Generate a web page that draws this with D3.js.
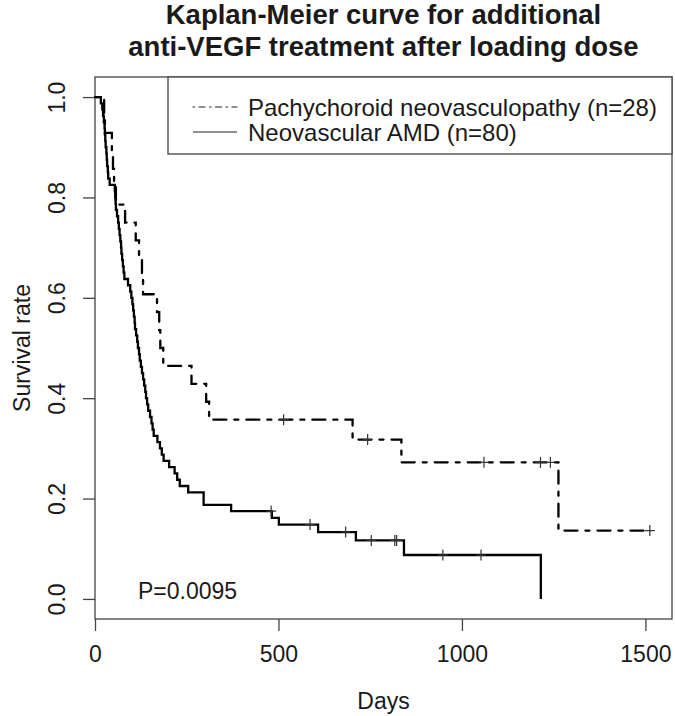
<!DOCTYPE html>
<html>
<head>
<meta charset="utf-8">
<script src="https://cdn.jsdelivr.net/npm/d3@7"></script>
<style>
  html, body { margin: 0; padding: 0; background: #fff; }
  svg { display: block; }
  text { font-family: "Liberation Sans", Arial, Helvetica, sans-serif; fill: #1a1a1a; }
</style>
</head>
<body>
<script>
// ---------- data ----------
// Neovascular AMD (n=80): step times (days) and survival after each step
const amdTime = [0,16,20,22,24,26,27,28,29,31,32,33,35,36,40,54,55,56,57,60,63,
  65,67,69,71,72,74,76,78,80,90,96,99,102,104,106,108,109,112,115,117,
  120,122,125,128,131,134,137,139,142,145,150,154,157,160,170,177,182,187,202,217,
  224,231,254,296,371,482,501,608,711,842,1215];
const amdSurv = [1,0.9875,0.975,0.9625,0.95,0.9375,0.925,0.9125,0.9,0.8875,0.875,
  0.8625,0.85,0.8375,0.825,0.8125,0.8,0.7875,0.775,0.7625,0.75,
  0.7375,0.725,0.7125,0.7,0.6875,0.675,0.6625,0.65,0.6375,0.625,
  0.6125,0.6,0.5875,0.575,0.5625,0.55,0.5375,0.525,0.5125,0.5,
  0.4875,0.475,0.4625,0.45,0.4375,0.425,0.4125,0.4,0.3875,0.375,
  0.3625,0.35,0.3375,0.325,0.3125,0.3,0.2875,0.275,0.2625,0.25,
  0.2375,0.225,0.2125,0.1875,0.175,0.1615,0.1481,0.1333,0.1166,0.0875,0];
const amdCensor = [480,586,683,753,817,822,948,1052];
const amdEnd = 1215;

// Pachychoroid neovasculopathy (n=28)
const pcvTime = [0,25,27,46,49,52,57,82,111,120,128,131,169,175,178,186,263,303,311,702,835,1263];
const pcvSurv = [1,0.9643,0.9286,0.8929,0.8571,0.8214,0.7857,0.75,0.7143,0.6786,0.6429,
  0.6071,0.5714,0.5357,0.5,0.4643,0.4286,0.3929,0.3571,0.3175,0.2721,0.1361];
const pcvCensor = [514,743,1060,1214,1241,1512];
const pcvEnd = 1512;

const xTicks = [0,500,1000,1500];
const yTicks = [0,0.2,0.4,0.6,0.8,1.0];
const seriesNames = ["Pachychoroid neovasculopathy (n=28)", "Neovascular AMD (n=80)"];
const titleLines = ["Kaplan-Meier curve for additional", "anti-VEGF treatment after loading dose"];
const xLabel = "Days";
const yLabel = "Survival rate";
const pText = "P=0.0095";

// ---------- layout ----------
const W = 675, H = 716;
const box = {left: 95, right: 672, top: 77, bottom: 619};
const axisCol = "#444";
const txtCol = "#1a1a1a";

const svg = d3.select("body").append("svg").attr("width", W).attr("height", H);

const x = d3.scaleLinear().domain([0, 1512 * 1.04]).range([box.left, box.right]);
const y = d3.scaleLinear().domain([-0.04, 1.04]).range([box.bottom, box.top]);

// plot box
svg.append("rect")
  .attr("x", box.left).attr("y", box.top)
  .attr("width", box.right - box.left).attr("height", box.bottom - box.top)
  .attr("fill", "none").attr("stroke", axisCol).attr("stroke-width", 1.3);

// axes
const xAxis = d3.axisBottom(x).tickValues(xTicks).tickSize(12).tickPadding(15).tickFormat(d3.format("d"));
const gx = svg.append("g").attr("transform", `translate(0,${box.bottom})`).call(xAxis);
gx.select(".domain").remove();
gx.selectAll("line").attr("stroke", axisCol).attr("stroke-width", 1.3);
gx.selectAll("text").attr("font-size", 23).style("fill", txtCol)
  .attr("font-family", "Liberation Sans, Arial, sans-serif");

const yAxis = d3.axisLeft(y).tickValues(yTicks).tickSize(12).tickFormat(d3.format(".1f"));
const gy = svg.append("g").attr("transform", `translate(${box.left},0)`).call(yAxis);
gy.select(".domain").remove();
gy.selectAll("line").attr("stroke", axisCol).attr("stroke-width", 1.3);
gy.selectAll("text").remove();
gy.selectAll(".tick").append("text")
  .attr("transform", "translate(-30,0) rotate(-90)")
  .attr("text-anchor", "middle")
  .attr("font-size", 23)
  .style("fill", txtCol)
  .text(d => d3.format(".1f")(d));

// axis titles
svg.append("text").attr("x", (box.left + box.right) / 2).attr("y", 709)
  .attr("text-anchor", "middle").attr("font-size", 23).text(xLabel);
svg.append("text")
  .attr("transform", `translate(30,${(box.top + box.bottom) / 2}) rotate(-90)`)
  .attr("text-anchor", "middle").attr("font-size", 23).text(yLabel);

// title
titleLines.forEach((t, i) => {
  svg.append("text").attr("x", (box.left + box.right) / 2).attr("y", 23.5 + i * 32.5)
    .attr("text-anchor", "middle").attr("font-size", 27.5).attr("font-weight", "bold")
    .text(t);
});

// curves
function stepData(times, surv, end) {
  const pts = times.map((t, i) => [t, surv[i]]);
  const last = pts[pts.length - 1];
  if (end > last[0]) pts.push([end, last[1]]);
  return pts;
}
function survAt(times, surv, t) {
  let s = 1;
  for (let i = 0; i < times.length; i++) if (times[i] <= t) s = surv[i];
  return s;
}
const line = d3.line().x(d => x(d[0])).y(d => y(d[1])).curve(d3.curveStepAfter);

svg.append("path").datum(stepData(amdTime, amdSurv, amdEnd))
  .attr("d", line).attr("fill", "none").attr("stroke", "#000").attr("stroke-width", 2.3)
  .attr("stroke-linejoin", "miter");
svg.append("path").datum(stepData(pcvTime, pcvSurv, pcvEnd))
  .attr("d", line).attr("fill", "none").attr("stroke", "#000").attr("stroke-width", 2.3)
  .attr("stroke-dasharray", "4,8,13,8").attr("stroke-linecap", "round");

// censor marks
function censor(times, stimes, ssurv) {
  const g = svg.append("g").attr("stroke", "#333").attr("stroke-width", 1.2);
  times.forEach(t => {
    const cx = x(t), cy = y(survAt(stimes, ssurv, t));
    g.append("line").attr("x1", cx - 5).attr("x2", cx + 5).attr("y1", cy).attr("y2", cy);
    g.append("line").attr("x1", cx).attr("x2", cx).attr("y1", cy - 5.5).attr("y2", cy + 5.5);
  });
}
censor(amdCensor, amdTime, amdSurv);
censor(pcvCensor, pcvTime, pcvSurv);

// legend
const lg = svg.append("g");
lg.append("rect").attr("x", 168).attr("y", box.top).attr("width", box.right - 168).attr("height", 77)
  .attr("fill", "#fff").attr("stroke", axisCol).attr("stroke-width", 1.3);
const legY = [107, 132];
lg.append("line").attr("x1", 193).attr("x2", 237).attr("y1", legY[0]).attr("y2", legY[0])
  .attr("stroke", "#222").attr("stroke-width", 1.2).attr("stroke-dasharray", "1.5,4.5,6,4.5")
  .attr("stroke-linecap", "round");
lg.append("line").attr("x1", 193).attr("x2", 237).attr("y1", legY[1]).attr("y2", legY[1])
  .attr("stroke", "#222").attr("stroke-width", 1.2);
seriesNames.forEach((n, i) => {
  lg.append("text").attr("x", 248).attr("y", legY[i] + 8.5).attr("font-size", 24).text(n);
});

// p-value
svg.append("text").attr("x", 138).attr("y", 599).attr("font-size", 23).text(pText);
</script>
</body>
</html>
